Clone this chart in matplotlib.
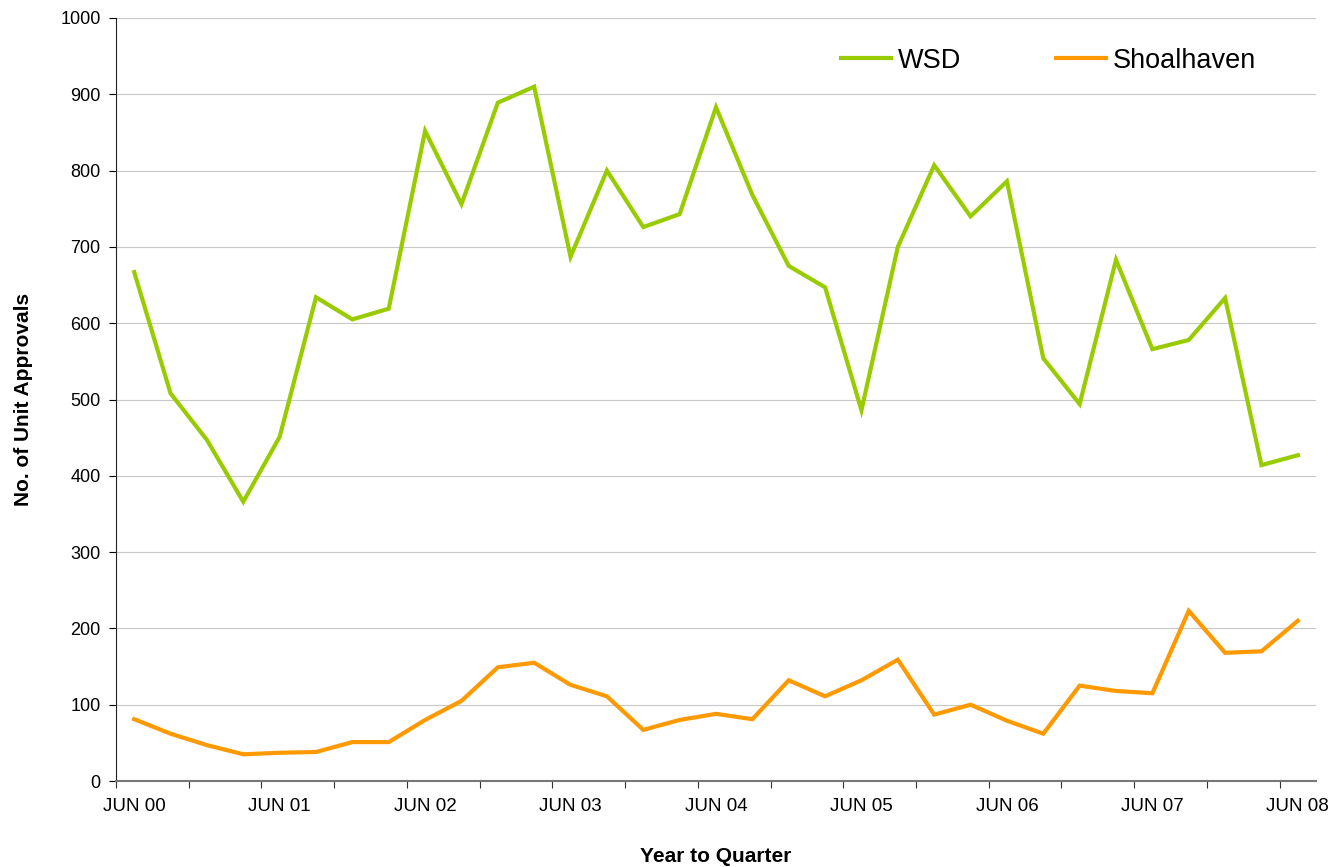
import numpy as np
import matplotlib.pyplot as plt

plt.rcParams['font.family'] = ['Liberation Sans', 'DejaVu Sans']

# quarterly data, JUN 00 .. JUN 08
quarters = ['JUN 00', 'JUN 01', 'JUN 02', 'JUN 03', 'JUN 04',
            'JUN 05', 'JUN 06', 'JUN 07', 'JUN 08']
wsd = [667, 508, 447, 366, 451, 634, 605, 619, 852, 756, 889, 910, 687,
       800, 726, 743, 883, 768, 675, 647, 486, 700, 807, 740, 786, 554,
       494, 683, 566, 578, 633, 414, 427]
shoalhaven = [81, 62, 47, 35, 37, 38, 51, 51, 80, 105, 149, 155, 126,
              111, 67, 80, 88, 81, 132, 111, 132, 159, 87, 100, 79, 62,
              125, 118, 115, 223, 168, 170, 210]

x = np.arange(len(wsd))

fig = plt.figure(figsize=(13.39, 8.67), dpi=100)
ax = fig.add_axes([116/1339, 1 - 781/867, 1200/1339, 763/867])

ax.plot(x, wsd, color='#99CC00', lw=3, label='WSD', solid_joinstyle='miter')
ax.plot(x, shoalhaven, color='#FF9900', lw=3, label='Shoalhaven', solid_joinstyle='miter')

ax.set_xlim(-0.5, len(wsd) - 0.5)
ax.set_ylim(0, 1000)
ax.set_yticks(np.arange(0, 1001, 100))
ax.yaxis.grid(True, color='#c8c8c8', lw=0.8)
ax.set_axisbelow(True)

# tick marks on category boundaries, labels every 4 quarters
ax.set_xticks(np.arange(-0.5, len(wsd), 2))
ax.set_xticklabels([])
ax.set_xticks(np.arange(0, len(wsd), 4), minor=True)
ax.set_xticklabels(quarters, minor=True)
ax.tick_params(axis='x', which='minor', length=0, pad=12, labelsize=13.5)
ax.tick_params(axis='x', which='major', length=5, color='#333333')
ax.tick_params(axis='y', length=5, labelsize=13, pad=6)

for s in ['top', 'right']:
    ax.spines[s].set_visible(False)
ax.spines['left'].set_color('#222222')
ax.spines['bottom'].set_color('#777777')
ax.spines['bottom'].set_linewidth(1.5)

ax.set_ylabel('No. of Unit Approvals', fontsize=15, fontweight='bold', labelpad=20)
ax.set_xlabel('Year to Quarter', fontsize=15, fontweight='bold', labelpad=23)

ax.legend(loc='upper right', bbox_to_anchor=(0.97, 0.993), ncol=2, frameon=False,
          fontsize=19.5, handlelength=1.85, columnspacing=3.5, handletextpad=0.25)

fig.savefig('out.png', dpi=100)
